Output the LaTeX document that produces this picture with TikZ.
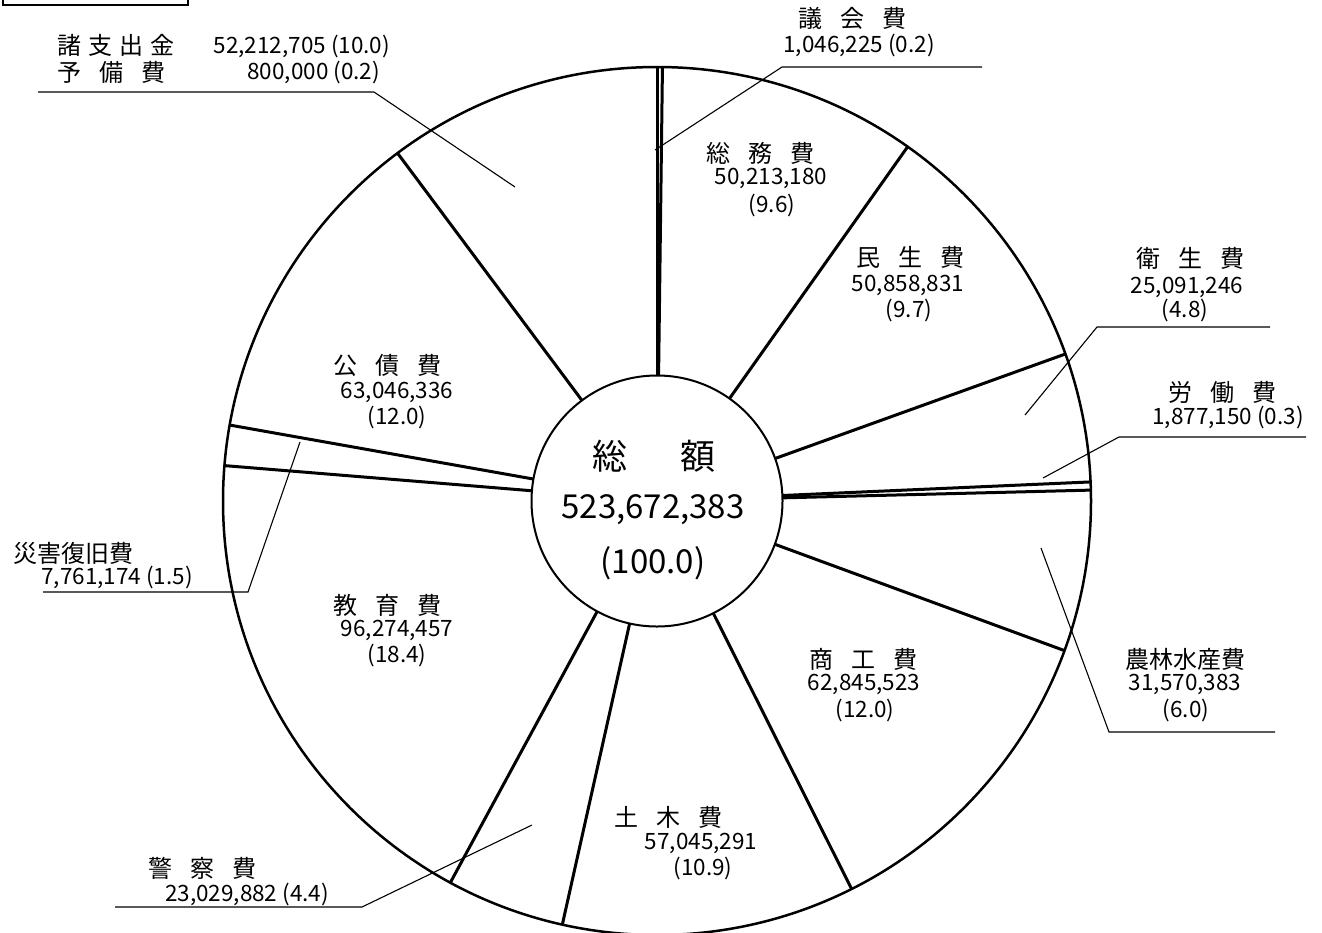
\documentclass[tikz,border=0pt]{standalone}
\usepackage{fontspec}
\setmainfont{Noto Sans CJK JP}
\newcommand{\gp}{\hspace{0.75em}}
\newcommand{\gq}{\hspace{0.3em}}
\begin{document}
\begin{tikzpicture}[x=1pt,y=-1pt,
  every node/.style={inner sep=0pt,outer sep=0pt},
  kj/.style={font=\fontsize{24}{28}\selectfont},
  nm/.style={font=\fontsize{22.5}{27}\selectfont},
  bigkj/.style={font=\fontsize{35}{40}\selectfont},
  bignm/.style={font=\fontsize{33}{38}\selectfont},
  seg/.style={line width=3pt},
  rim/.style={line width=2.5pt},
  lead/.style={line width=1.1pt}]
\useasboundingbox (0,0) rectangle (1322,932);
% title box (cut off)
\draw[line width=2pt] (3,-20) -- (3,5) -- (188,5) -- (188,-20);
% pie
\coordinate (C) at (657,501);
\draw[rim] (C) circle[radius=434pt];
\begin{scope}[shift={(657,501)}]
\foreach \p in {0,0.2,9.8,19.5,24.3,24.6,30.6,42.6,53.5,57.9,76.3,77.8,89.8}
  \draw[seg] ({-90+3.6*\p}:124) -- ({-90+3.6*\p}:434);
\end{scope}
\node[draw,line width=2pt,circle,minimum size=251pt,fill=white] (tot) at (C) {};
\node[bigkj] (t1) at (654,456) {総\hspace{1.5em}額};
\node[bignm] (t2) at (653,510) {523,672,383};
\node[bignm] (t3) at (653,563) {(100.0)};
% inside labels
\node[kj] (a1) at (760,153) {総\gp 務\gp 費};
\node[nm] (a2) at (771,178) {50,213,180};
\node[nm] (a3) at (772,205) {(9.6)};
\node[kj] (b1) at (910,257) {民\gp 生\gp 費};
\node[nm] (b2) at (908,285) {50,858,831};
\node[nm] (b3) at (909,310) {(9.7)};
\node[kj] (c1) at (387,365) {公\gp 債\gp 費};
\node[nm] (c2) at (397,392) {63,046,336};
\node[nm] (c3) at (397,417) {(12.0)};
\node[kj] (d1) at (387,605) {教\gp 育\gp 費};
\node[nm] (d2) at (397,630) {96,274,457};
\node[nm] (d3) at (397,655) {(18.4)};
\node[kj] (e1) at (863,659) {商\gp 工\gp 費};
\node[nm] (e2) at (864,684) {62,845,523};
\node[nm] (e3) at (865,710) {(12.0)};
\node[kj] (f1) at (668,817) {土\gp 木\gp 費};
\node[nm] (f2) at (701,843) {57,045,291};
\node[nm] (f3) at (703,868) {(10.9)};
% outside labels
\node[kj] (g1) at (852,18) {議\gp 会\gp 費};
\node[nm] (g2) at (859,45) {1,046,225 (0.2)};
\coordinate (g0) at (655,150);
\coordinate (gk) at (782,67);
\coordinate (ge) at (982,67);
\draw[lead] (g0) -- (gk) -- (ge);
\node[kj,anchor=west] (h1) at (57,45) {諸\gq 支\gq 出\gq 金};
\node[nm,anchor=east] (h2) at (390,46) {52,212,705 (10.0)};
\node[kj,anchor=west] (h3) at (57,72) {予\gp 備\gp 費};
\node[nm,anchor=east] (h4) at (380,72) {800,000 (0.2)};
\coordinate (h0) at (515,187);
\coordinate (hk) at (374,92);
\coordinate (he) at (38,92);
\draw[lead] (h0) -- (hk) -- (he);
\node[kj] (i1) at (1190,258) {衛\gp 生\gp 費};
\node[nm] (i2) at (1187,287) {25,091,246};
\node[nm] (i3) at (1185,310) {(4.8)};
\coordinate (i0) at (1025,415);
\coordinate (ik) at (1097,327);
\coordinate (ie) at (1270,327);
\draw[lead] (i0) -- (ik) -- (ie);
\node[kj] (j1) at (1222,392) {労\gp 働\gp 費};
\node[nm] (j2) at (1228,417) {1,877,150 (0.3)};
\coordinate (j0) at (1043,478);
\coordinate (jk) at (1119,437);
\coordinate (je) at (1306,437);
\draw[lead] (j0) -- (jk) -- (je);
\node[kj] (k1) at (1185,659) {農林水産費};
\node[nm] (k2) at (1185,684) {31,570,383};
\node[nm] (k3) at (1186,710) {(6.0)};
\coordinate (k0) at (1041,548);
\coordinate (kk) at (1109,732);
\coordinate (ke) at (1275,732);
\draw[lead] (k0) -- (kk) -- (ke);
\node[kj] (l1) at (73,553) {災害復旧費};
\node[nm] (l2) at (117,577) {7,761,174 (1.5)};
\coordinate (l0) at (300,442);
\coordinate (lk) at (248,592);
\coordinate (le) at (43,592);
\draw[lead] (l0) -- (lk) -- (le);
\node[kj] (m1) at (202,868) {警\gp 察\gp 費};
\node[nm] (m2) at (247,894) {23,029,882 (4.4)};
\coordinate (m0) at (532,825);
\coordinate (mk) at (362,907);
\coordinate (me) at (115,907);
\draw[lead] (m0) -- (mk) -- (me);
\end{tikzpicture}
\end{document}
